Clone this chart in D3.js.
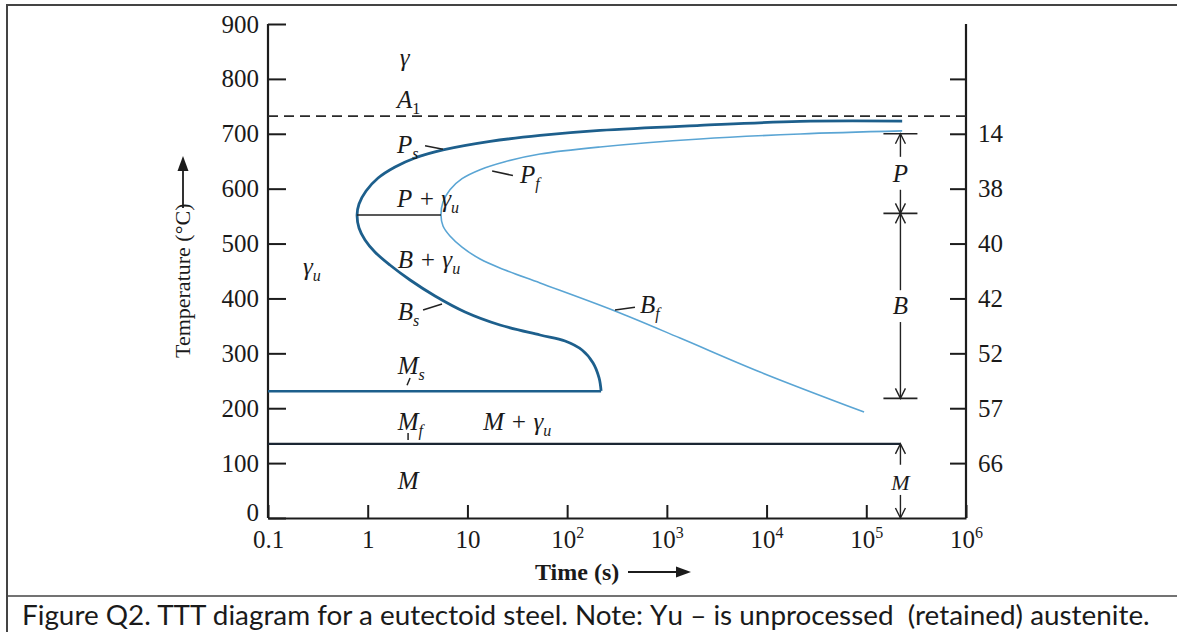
<!DOCTYPE html>
<html>
<head>
<meta charset="utf-8">
<title>TTT diagram</title>
<script src="https://cdn.jsdelivr.net/npm/d3@7"></script>
<style>
  body { margin: 0; background: #fff; }
  text { fill: #1a1a1a; }
</style>
</head>
<body>
<script>

// ---- data (time in s, temperature in C) ----
var xTicks = [0.1, 1, 10, 100, 1e3, 1e4, 1e5, 1e6];
var xTickLabels = [["0.1", ""], ["1", ""], ["10", ""], ["10", "2"], ["10", "3"], ["10", "4"], ["10", "5"], ["10", "6"]];
var yTicks = [0, 100, 200, 300, 400, 500, 600, 700, 800, 900];
var hardTicks = [800, 700, 600, 500, 400, 300, 200, 100];
var hardLabels = ["", "14", "38", "40", "42", "52", "57", "66"];

// transformation start (Ps above the nose, Bs below)
var startCurve = [
  [2.29e5, 723], [2.17e4, 722.6], [2150, 715.3], [214, 706.2], [53.5, 697], [16.9, 686.1],
  [5.69, 670.5], [2.98, 655.9], [1.88, 639.5], [1.27, 619.4], [0.962, 595.7], [0.818, 572.1],
  [0.782, 552.1], [0.818, 528.3], [0.94, 506.5], [1.18, 484.6], [1.67, 460.9], [2.66, 433.6],
  [4.73, 404.4], [9.46, 375.3], [21.2, 351.6], [53.5, 333.4], [95.3, 322.5], [141, 306.1],
  [182, 282.4], [209, 255.1], [219, 231.4]
];
// transformation finish (Pf above the nose, Bf below)
var finishCurve = [
  [2.29e5, 705.2], [2.17e4, 699.6], [2150, 690.5], [214, 676], [53.5, 663.1], [23.8, 649.2],
  [13.4, 634.6], [8.83, 618.2], [6.68, 598.2], [5.69, 575.7], [5.43, 552.1], [5.69, 532.1],
  [6.68, 513.9], [8.83, 493.7], [13.4, 471.8], [23.8, 451.8], [53.5, 428.1], [302, 377.1],
  [1355, 327.9], [8610, 266], [9.5e4, 193.1]
];
var a1Temp = 732;
var msLine = [[0.1, 231], [219, 231]];
var mfLine = [[0.1, 135], [2.2e5, 135]];
var noseLine = [[0.78, 552], [5.43, 552]];

var leaders = [
  [[3.76, 678], [5.69, 672]],   // Ps
  [[17.7, 632], [28.6, 624]],   // Pf
  [[3.59, 379], [5.56, 390]],   // Bs
  [[302, 379], [479, 384]],     // Bf
  [[2.48, 242], [2.66, 255]],   // Ms
  [[2.54, 142], [2.54, 155]]    // Mf
];

// labels: main text, subscript, time, temperature
var labels = [
  {m: "γ", s: "", t: 2.1, T: 823},
  {m: "A", s: "1", t: 1.97, T: 747},
  {m: "P", s: "s", t: 1.97, T: 665},
  {m: "P", s: "f", t: 33.6, T: 610},
  {m: "P + γ", s: "u", t: 1.97, T: 567},
  {m: "B + γ", s: "u", t: 2.0, T: 455},
  {m: "γ", s: "u", t: 0.224, T: 443},
  {m: "B", s: "s", t: 2.0, T: 361},
  {m: "B", s: "f", t: 537, T: 373},
  {m: "M", s: "s", t: 2.0, T: 262},
  {m: "M", s: "f", t: 2.0, T: 160},
  {m: "M + γ", s: "u", t: 14.4, T: 160},
  {m: "M", s: "", t: 2.0, T: 53}
];

// right-hand product ranges
var rangeTime = 2.2e5;
var rangeBars = [700, 555, 218];
var rangeArrows = [[658, 700], [598, 555], [415, 555], [357, 218], [97, 135], [42, 0]];
var rangeLabels = [{m: "P", T: 612}, {m: "B", T: 372}, {m: "M", T: 51}];

// ---- layout ----
var width = 1177, height = 632;
var serif = "'Liberation Serif', 'Times New Roman', serif";
var darkBlue = "#1d5f8c", lightBlue = "#5aa5d4", ink = "#1c1c1c";

var svg = d3.select("body").append("svg")
  .attr("width", width)
  .attr("height", height)
  .style("font-family", serif);

svg.append("rect").attr("width", width).attr("height", height).attr("fill", "#fff");

// frame and caption separator
svg.append("path")
  .attr("d", "M7,632V5H1177")
  .attr("fill", "none").attr("stroke", "#444").attr("stroke-width", 2);
svg.append("line")
  .attr("x1", 7).attr("x2", width).attr("y1", 596).attr("y2", 596)
  .attr("stroke", "#444").attr("stroke-width", 1.5);

var x = d3.scaleLog().domain([0.1, 1e6]).range([268, 966]);
var y = d3.scaleLinear().domain([0, 900]).range([518, 24]);

// axes, ticks pointing inward
var leftAxis = svg.append("g")
  .attr("transform", "translate(268,0)")
  .call(d3.axisLeft(y).tickValues(yTicks).tickSizeInner(-18).tickSizeOuter(0).tickPadding(9));

var bottomAxis = svg.append("g")
  .attr("transform", "translate(0,518)")
  .call(d3.axisBottom(x).tickValues(xTicks).tickSizeInner(-13).tickSizeOuter(0).tickPadding(8).tickFormat(""));

var rightAxis = svg.append("g")
  .attr("transform", "translate(966,0)")
  .call(d3.axisRight(y).tickValues(hardTicks).tickSizeInner(-16).tickSizeOuter(0).tickPadding(12)
    .tickFormat(function(d, i) { return hardLabels[i]; }));

[leftAxis, bottomAxis, rightAxis].forEach(function(a) {
  a.select(".domain").attr("stroke", ink).attr("stroke-width", 2.2);
  a.selectAll(".tick line").attr("stroke", ink).attr("stroke-width", 2);
  a.selectAll(".tick text").attr("font-family", serif).attr("font-size", 25).attr("fill", ink);
});
leftAxis.select(".domain").attr("d", "M0," + y(900) + "V" + y(0));
rightAxis.select(".domain").attr("d", "M0," + y(900) + "V" + y(0));
leftAxis.selectAll(".tick").filter(function(d) { return d === 0; }).select("text").attr("dy", "0.1em");

// bottom labels with superscripts
bottomAxis.selectAll(".tick").each(function(d, i) {
  var t = d3.select(this).append("text")
    .attr("y", 30).attr("text-anchor", "middle")
    .attr("font-size", 25).attr("fill", ink).attr("font-family", serif);
  t.append("tspan").text(xTickLabels[i][0]);
  if (xTickLabels[i][1]) {
    t.append("tspan").attr("font-size", 16).attr("dy", -10).text(xTickLabels[i][1]);
  }
});

// A1 line
svg.append("line")
  .attr("x1", x(0.1)).attr("x2", x(1e6))
  .attr("y1", y(a1Temp)).attr("y2", y(a1Temp))
  .attr("stroke", "#2a2a2a").attr("stroke-width", 1.7).attr("stroke-dasharray", "10,6");

var curve = d3.line()
  .x(function(d) { return x(d[0]); })
  .y(function(d) { return y(d[1]); })
  .curve(d3.curveCatmullRom.alpha(0.5));
var straight = d3.line()
  .x(function(d) { return x(d[0]); })
  .y(function(d) { return y(d[1]); });

svg.append("path").attr("d", curve(finishCurve))
  .attr("fill", "none").attr("stroke", lightBlue).attr("stroke-width", 1.6);
svg.append("path").attr("d", curve(startCurve))
  .attr("fill", "none").attr("stroke", darkBlue).attr("stroke-width", 2.8);

svg.append("path").attr("d", straight(noseLine))
  .attr("stroke", "#222").attr("stroke-width", 1.6);
svg.append("path").attr("d", straight(msLine))
  .attr("stroke", darkBlue).attr("stroke-width", 2.4);
svg.append("path").attr("d", straight(mfLine))
  .attr("stroke", "#1b2633").attr("stroke-width", 2.4);

svg.selectAll("path.leader")
  .data(leaders)
  .enter()
  .append("path")
  .attr("class", "leader")
  .attr("d", straight)
  .attr("stroke", "#222").attr("stroke-width", 1.5);

// region labels
var lab = svg.selectAll("text.region")
  .data(labels)
  .enter()
  .append("text")
  .attr("class", "region")
  .attr("x", function(d) { return x(d.t); })
  .attr("y", function(d) { return y(d.T); })
  .attr("font-size", 25)
  .attr("font-style", "italic")
  .attr("fill", ink);
lab.append("tspan").text(function(d) { return d.m; });
lab.filter(function(d) { return d.s; })
  .append("tspan")
  .attr("font-size", 16)
  .attr("dy", 6)
  .attr("font-style", function(d) { return d.s === "1" ? "normal" : "italic"; })
  .text(function(d) { return d.s; });

// product ranges on the right
var rx = x(rangeTime);
svg.selectAll("line.bar")
  .data(rangeBars)
  .enter()
  .append("line")
  .attr("class", "bar")
  .attr("x1", rx - 17).attr("x2", rx + 17)
  .attr("y1", function(d) { return y(d); })
  .attr("y2", function(d) { return y(d); })
  .attr("stroke", "#222").attr("stroke-width", 1.6);

var arrows = svg.selectAll("g.arrow")
  .data(rangeArrows)
  .enter()
  .append("g")
  .attr("class", "arrow");
arrows.append("line")
  .attr("x1", rx).attr("x2", rx)
  .attr("y1", function(d) { return y(d[0]); })
  .attr("y2", function(d) { return y(d[1]); })
  .attr("stroke", "#222").attr("stroke-width", 1.4);
arrows.append("path")
  .attr("d", function(d) {
    var tip = y(d[1]), dir = y(d[1]) < y(d[0]) ? 1 : -1;
    return "M" + (rx - 5) + "," + (tip + dir * 10) + "L" + rx + "," + tip + "L" + (rx + 5) + "," + (tip + dir * 10);
  })
  .attr("fill", "none").attr("stroke", "#222").attr("stroke-width", 1.4);

svg.selectAll("text.range")
  .data(rangeLabels)
  .enter()
  .append("text")
  .attr("class", "range")
  .attr("x", rx)
  .attr("y", function(d) { return y(d.T); })
  .attr("text-anchor", "middle")
  .attr("font-size", function(d) { return d.m === "M" ? 22 : 25; })
  .attr("font-style", "italic")
  .attr("fill", ink)
  .text(function(d) { return d.m; });

// axis titles with arrows
var yTitle = svg.append("g").attr("transform", "translate(190,358) rotate(-90)");
yTitle.append("text")
  .attr("x", 0).attr("y", 0)
  .attr("font-size", 22)
  .attr("fill", ink)
  .text("Temperature (°C)");
yTitle.append("line").attr("x1", 150).attr("x2", 192).attr("y1", -7).attr("y2", -7)
  .attr("stroke", ink).attr("stroke-width", 1.8);
yTitle.append("path").attr("d", "M202,-7L187,-12.5L187,-1.5Z").attr("fill", ink);

svg.append("text")
  .attr("x", 535).attr("y", 580)
  .attr("font-size", 24)
  .attr("font-weight", "bold")
  .attr("fill", ink)
  .text("Time (s)");
svg.append("line").attr("x1", 628).attr("x2", 680).attr("y1", 572).attr("y2", 572)
  .attr("stroke", ink).attr("stroke-width", 1.8);
svg.append("path").attr("d", "M691,572L676,566.5L676,577.5Z").attr("fill", ink);

// caption
var cap = svg.append("text")
  .attr("x", 22).attr("y", 625)
  .style("white-space", "pre")
  .style("font-family", "Lato, 'Open Sans', sans-serif")
  .attr("font-size", 24)
  .attr("fill", "#111")
  .text("Figure Q2. TTT diagram for a eutectoid steel. Note: Υu – is unprocessed  (retained) austenite.");
var capLen = cap.node().getComputedTextLength();
cap.attr("font-size", 24 * 1128 / capLen);

</script>
</body>
</html>
